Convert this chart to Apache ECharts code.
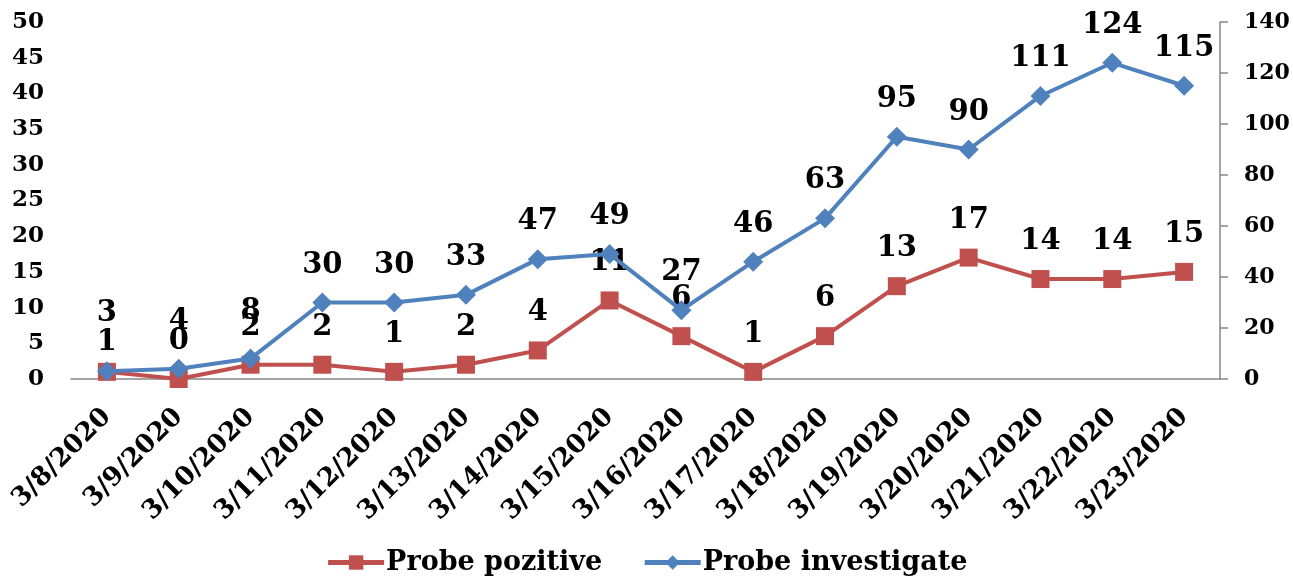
<!DOCTYPE html>
<html>
<head>
<meta charset="utf-8">
<script src="https://cdn.jsdelivr.net/npm/echarts@6/dist/echarts.min.js"></script>
<style>
html,body{margin:0;padding:0;background:#fff;}
#chart{width:1293px;height:584px;}
</style>
</head>
<body>
<div id="chart"></div>
<script>
const categories = ['3/8/2020','3/9/2020','3/10/2020','3/11/2020','3/12/2020','3/13/2020','3/14/2020','3/15/2020','3/16/2020','3/17/2020','3/18/2020','3/19/2020','3/20/2020','3/21/2020','3/22/2020','3/23/2020'];
const probePozitive = [1,0,2,2,1,2,4,11,6,1,6,13,17,14,14,15];
const probeInvestigate = [3,4,8,30,30,33,47,49,27,46,63,95,90,111,124,115];
const seriesNames = ['Probe pozitive','Probe investigate'];

const FONT = 'DejaVu Serif';
const RED = '#C0504D';
const BLUE = '#4F81BD';
const AXIS = '#868686';

// Label nudges to mimic the reference's overlap avoidance near the start
const blueNudge = {0: -20, 1: -10, 2: -10};
const redNudge = {0: 8};

const redData = probePozitive.map((v, i) => redNudge[i] !== undefined ? {value: v, label: {offset: [0, redNudge[i]]}} : v);
const blueData = probeInvestigate.map((v, i) => blueNudge[i] !== undefined ? {value: v, label: {offset: [0, blueNudge[i]]}} : v);

const chart = echarts.init(document.getElementById('chart'), null, {renderer: 'canvas'});
chart.setOption({
  animation: false,
  backgroundColor: '#fff',
  textStyle: {fontFamily: FONT, fontWeight: 'bold', color: '#000'},
  grid: {left: 71, right: 73, top: 22, bottom: 205, containLabel: false, outerBoundsMode: 'none'},
  legend: {
    bottom: 3,
    left: 'center',
    itemWidth: 56,
    itemHeight: 18,
    itemGap: 40,
    lineStyle: {width: 5},
    textStyle: {fontFamily: FONT, fontWeight: 'bold', fontSize: 27, color: '#000', padding: [0,0,0,-3]},
    data: seriesNames
  },
  xAxis: {
    type: 'category',
    data: categories,
    boundaryGap: true,
    axisLine: {show: true, lineStyle: {color: AXIS, width: 1.5}},
    axisTick: {show: false},
    axisLabel: {rotate: 45, margin: 34, interval: 0, fontFamily: FONT, fontWeight: 'bold', fontSize: 26, color: '#000'}
  },
  yAxis: [
    {
      type: 'value', min: 0, max: 50, interval: 5, position: 'left',
      axisLine: {show: false}, axisTick: {show: false}, splitLine: {show: false},
      axisLabel: {margin: 27, fontFamily: FONT, fontWeight: 'bold', fontSize: 23, color: '#000'}
    },
    {
      type: 'value', min: 0, max: 140, interval: 20, position: 'right',
      axisLine: {show: true, lineStyle: {color: AXIS, width: 1.5}},
      axisTick: {show: true, inside: false, length: 8, lineStyle: {color: AXIS, width: 1.5}},
      splitLine: {show: false},
      axisLabel: {margin: 24, fontFamily: FONT, fontWeight: 'bold', fontSize: 22, color: '#000'}
    }
  ],
  series: [
    {
      name: seriesNames[0], type: 'line', yAxisIndex: 0, data: redData,
      symbol: 'rect', symbolSize: 18,
      lineStyle: {color: RED, width: 4}, itemStyle: {color: RED},
      label: {show: true, position: 'top', distance: 14, fontFamily: FONT, fontWeight: 'bold', fontSize: 29, color: '#000'},
      z: 2
    },
    {
      name: seriesNames[1], type: 'line', yAxisIndex: 1, data: blueData,
      symbol: 'diamond', symbolSize: 20,
      lineStyle: {color: BLUE, width: 4}, itemStyle: {color: BLUE},
      label: {show: true, position: 'top', distance: 13, fontFamily: FONT, fontWeight: 'bold', fontSize: 29, color: '#000'},
      z: 3
    }
  ]
});
</script>
</body>
</html>
